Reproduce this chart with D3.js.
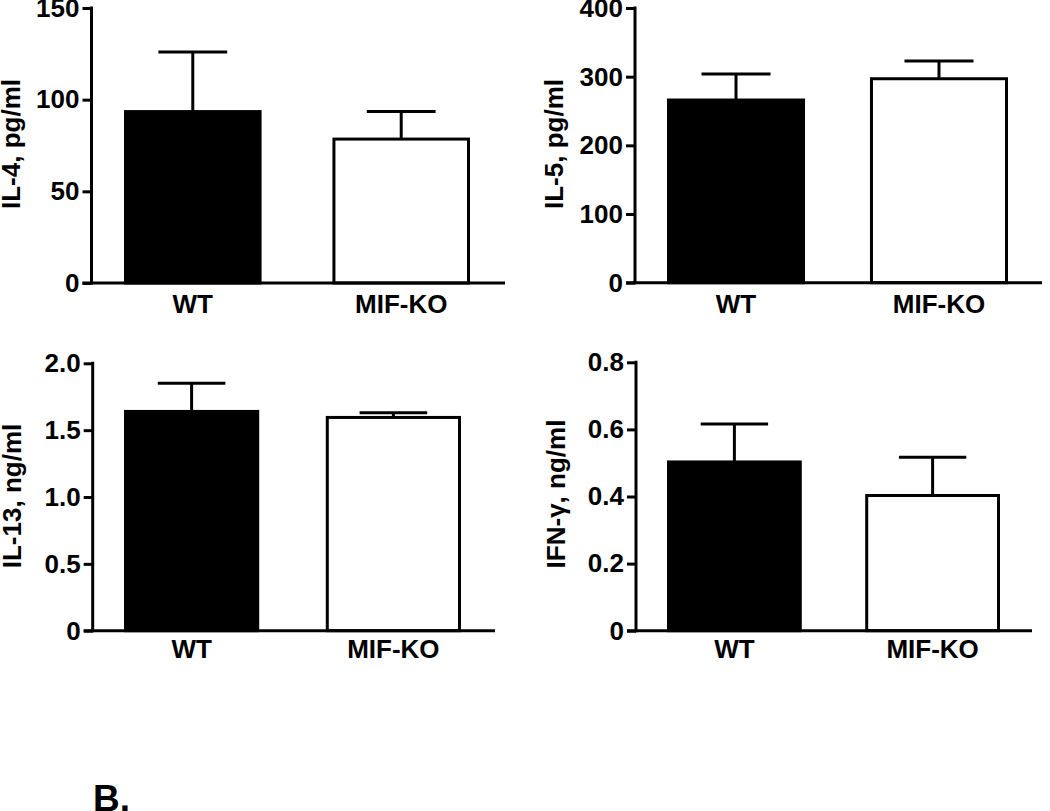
<!DOCTYPE html>
<html>
<head>
<meta charset="utf-8">
<script src="https://cdn.jsdelivr.net/npm/d3@7"></script>
<style>
  html, body { margin: 0; padding: 0; background: #fff; }
  svg { display: block; }
  text { font-family: "Liberation Sans", Arial, Helvetica, sans-serif; font-weight: bold; fill: #000; }
</style>
</head>
<body>
<svg id="chart" width="1050" height="811"></svg>
<script>
// ---- Data ----
const categories = ["WT", "MIF-KO"];

const il4Means = [93.5, 78.5];
const il4Sem = [32.5, 15.0];
const il4Ticks = [0, 50, 100, 150];

const il5Means = [266, 297];
const il5Sem = [38, 26];
const il5Ticks = [0, 100, 200, 300, 400];

const il13Means = [1.64, 1.595];
const il13Sem = [0.21, 0.035];
const il13Ticks = [0, 0.5, 1.0, 1.5, 2.0];
const il13TickLabels = ["0", "0.5", "1.0", "1.5", "2.0"];

const ifngMeans = [0.503, 0.403];
const ifngSem = [0.113, 0.114];
const ifngTicks = [0, 0.2, 0.4, 0.6, 0.8];
const ifngTickLabels = ["0", "0.2", "0.4", "0.6", "0.8"];

const yLabels = ["IL-4, pg/ml", "IL-5, pg/ml", "IL-13, ng/ml", "IFN-\u03b3, ng/ml"];
const panelLetter = "B.";

// ---- Layout (pixel frames) ----
const panels = [
  { means: il4Means, sem: il4Sem, ticks: il4Ticks, labels: il4Ticks.map(String), ylab: yLabels[0],
    axisX: 91.5, y0: 283, yTop: 8, xEnd: 505, bandStart: 124, bandEnd: 470, pi: 0.34,
    labX: 20, labY: 144, xLabY: 313 },
  { means: il5Means, sem: il5Sem, ticks: il5Ticks, labels: il5Ticks.map(String), ylab: yLabels[1],
    axisX: 635, y0: 282.7, yTop: 8, xEnd: 1042, bandStart: 667, bandEnd: 1008, pi: 0.32,
    labX: 563, labY: 144, xLabY: 313 },
  { means: il13Means, sem: il13Sem, ticks: il13Ticks, labels: il13TickLabels, ylab: yLabels[2],
    axisX: 92.7, y0: 630.7, yTop: 363.3, xEnd: 495, bandStart: 124, bandEnd: 461, pi: 0.33,
    labX: 21, labY: 496, xLabY: 658 },
  { means: ifngMeans, sem: ifngSem, ticks: ifngTicks, labels: ifngTickLabels, ylab: yLabels[3],
    axisX: 636, y0: 630.7, yTop: 362.3, xEnd: 1032, bandStart: 667, bandEnd: 1000, pi: 0.32,
    labX: 565, labY: 494, xLabY: 658 }
];

const svg = d3.select("#chart");
const FS = 26;

panels.forEach(p => {
  const g = svg.append("g");
  const maxT = p.ticks[p.ticks.length - 1];
  const y = d3.scaleLinear().domain([0, maxT]).range([p.y0, p.yTop]);
  const x = d3.scaleBand().domain(categories).range([p.bandStart, p.bandEnd])
    .paddingInner(p.pi).paddingOuter(0);
  const bw = x.bandwidth();

  // error bars
  categories.forEach((c, i) => {
    const cx = x(c) + bw / 2;
    const top = y(p.means[i] + p.sem[i]);
    g.append("line").attr("x1", cx).attr("x2", cx)
      .attr("y1", y(p.means[i])).attr("y2", top)
      .attr("stroke", "#000").attr("stroke-width", 3);
    g.append("line").attr("x1", cx - bw * 0.25).attr("x2", cx + bw * 0.25)
      .attr("y1", top).attr("y2", top)
      .attr("stroke", "#000").attr("stroke-width", 3);
  });

  // bars
  categories.forEach((c, i) => {
    const filled = i === 0;
    g.append("rect")
      .attr("x", x(c) + 1.5)
      .attr("y", y(p.means[i]))
      .attr("width", bw - 3)
      .attr("height", p.y0 - y(p.means[i]))
      .attr("fill", filled ? "#000" : "#fff")
      .attr("stroke", "#000").attr("stroke-width", 3);
  });

  // y axis
  const yAxis = d3.axisLeft(y).tickValues(p.ticks)
    .tickFormat((d, i) => p.labels[i]).tickSize(9).tickPadding(3).tickSizeOuter(0);
  const ya = g.append("g").attr("transform", `translate(${p.axisX},0)`).call(yAxis);
  ya.select(".domain").remove();
  ya.selectAll(".tick line").attr("stroke", "#000").attr("stroke-width", 3);
  ya.selectAll(".tick text").attr("font-size", FS)
    .attr("font-family", "'Liberation Sans', Arial, sans-serif").attr("font-weight", "bold").attr("fill", "#000");
  g.append("line").attr("x1", p.axisX).attr("x2", p.axisX)
    .attr("y1", p.yTop - 1.5).attr("y2", p.y0 + 1.5)
    .attr("stroke", "#000").attr("stroke-width", 3);

  // x axis baseline
  g.append("line").attr("x1", p.axisX - 9).attr("x2", p.xEnd)
    .attr("y1", p.y0).attr("y2", p.y0)
    .attr("stroke", "#000").attr("stroke-width", 3);

  // x labels
  categories.forEach(c => {
    g.append("text").attr("x", x(c) + bw / 2).attr("y", p.xLabY)
      .attr("text-anchor", "middle").attr("font-size", FS).text(c);
  });

  // y label
  g.append("text")
    .attr("transform", `translate(${p.labX},${p.labY}) rotate(-90)`)
    .attr("text-anchor", "middle").attr("font-size", FS).text(p.ylab);
});

svg.append("text").attr("x", 93).attr("y", 811).attr("font-size", 37).text(panelLetter);
</script>
</body>
</html>
